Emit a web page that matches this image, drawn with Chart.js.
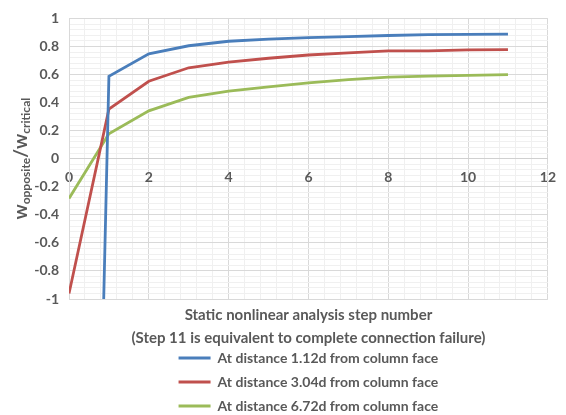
<!DOCTYPE html>
<html>
<head>
<meta charset="utf-8">
<script src="https://cdn.jsdelivr.net/npm/chart.js@4/dist/chart.umd.min.js"></script>
<style>
  html, body { margin: 0; padding: 0; background: #ffffff; }
  #wrap { width: 566px; height: 415px; position: relative; }
</style>
</head>
<body>
<div id="wrap"><canvas id="chart"></canvas></div>
<script>
// Analysis steps (x) and normalised deflection ratio for each gauge location
const steps = [0, 1, 2, 3, 4, 5, 6, 7, 8, 9, 10, 11];
const seriesNames = [
  'At distance 1.12d from column face',
  'At distance 3.04d from column face',
  'At distance 6.72d from column face'
];
const ratioAt112d = [-11.6, 0.587, 0.747, 0.805, 0.837, 0.853, 0.863, 0.870, 0.878, 0.884, 0.886, 0.888];
const ratioAt304d = [-0.961, 0.353, 0.552, 0.648, 0.688, 0.716, 0.739, 0.755, 0.768, 0.768, 0.776, 0.777];
const ratioAt672d = [-0.283, 0.178, 0.341, 0.437, 0.482, 0.512, 0.540, 0.563, 0.581, 0.588, 0.594, 0.599];
const seriesColors = ['#4a7ebb', '#c0504d', '#9bbb59'];

// Labelled (major) ticks; minor gridlines fall between them
const xMajorTicks = [0, 2, 4, 6, 8, 10, 12];
const yMajorTicks = [-1, -0.8, -0.6, -0.4, -0.2, 0, 0.2, 0.4, 0.6, 0.8, 1];

const xTitleLines = ['Static nonlinear analysis step number',
                     '(Step 11 is equivalent to complete connection failure)'];

const textGray = '#595959';
const FONT = 'Lato, "Open Sans", "DejaVu Sans", sans-serif';

function isMajor(list, v) {
  return list.some(t => Math.abs(t - v) < 1e-6);
}
function fmt(v) {
  const r = Math.round(v * 10) / 10;
  return String(r === 0 ? 0 : r);
}

const toPoints = arr => steps.map((s, i) => ({ x: s, y: arr[i] }));
const allSeries = [ratioAt112d, ratioAt304d, ratioAt672d];

// Rotated y-axis title with subscripts: w_opposite / w_critical
const yTitlePlugin = {
  id: 'yTitle',
  afterDraw(chart) {
    const { ctx, chartArea } = chart;
    const parts = [
      { t: 'w', size: 19, dy: 0 },
      { t: 'opposite', size: 12, dy: 5 },
      { t: '/', size: 19, dy: 0 },
      { t: 'w', size: 19, dy: 0 },
      { t: 'critical', size: 12, dy: 5 }
    ];
    ctx.save();
    let total = 0;
    parts.forEach(p => {
      ctx.font = `bold ${p.size}px ${FONT}`;
      p.w = ctx.measureText(p.t).width;
      total += p.w;
    });
    const cy = (chartArea.top + chartArea.bottom) / 2;
    ctx.translate(21, cy);
    ctx.rotate(-Math.PI / 2);
    ctx.fillStyle = textGray;
    ctx.textBaseline = 'middle';
    ctx.textAlign = 'left';
    let x = -total / 2;
    parts.forEach(p => {
      ctx.font = `bold ${p.size}px ${FONT}`;
      ctx.fillText(p.t, x, p.dy);
      x += p.w;
    });
    ctx.restore();
  }
};

new Chart(document.getElementById('chart'), {
  type: 'line',
  data: {
    datasets: allSeries.map((arr, i) => ({
      label: seriesNames[i],
      data: toPoints(arr),
      borderColor: seriesColors[i],
      backgroundColor: seriesColors[i],
      borderWidth: 2.8,
      pointRadius: 0,
      pointHoverRadius: 0,
      tension: 0,
      fill: false
    }))
  },
  options: {
    responsive: true,
    maintainAspectRatio: false,
    animation: false,
    layout: { padding: { top: 4, right: 15, bottom: 0, left: 0 } },
    scales: {
      x: {
        type: 'linear',
        position: { y: 0 },
        min: 0,
        max: 12,
        border: { display: true, color: '#d0d0d0', width: 1 },
        grid: {
          drawTicks: false,
          lineWidth: 1,
          color: c => isMajor(xMajorTicks, c.tick.value) ? '#d9d9d9' : '#f0f0f0'
        },
        ticks: {
          stepSize: 0.4,
          autoSkip: false,
          maxRotation: 0,
          padding: 10,
          color: textGray,
          font: { family: FONT, size: 14, weight: 'bold' },
          callback: v => isMajor(xMajorTicks, v) ? fmt(v) : ''
        }
      },
      y: {
        min: -1,
        max: 1,
        afterFit: s => { s.width = 69; },
        border: { display: true, color: '#d9d9d9' },
        grid: {
          drawTicks: false,
          lineWidth: 1,
          color: c => isMajor(yMajorTicks, c.tick.value) ? '#d9d9d9' : '#f0f0f0'
        },
        ticks: {
          stepSize: 0.04,
          autoSkip: false,
          padding: 10,
          color: textGray,
          font: { family: FONT, size: 14, weight: 'bold' },
          callback: v => isMajor(yMajorTicks, v) ? fmt(v) : ''
        }
      }
    },
    plugins: {
      tooltip: { enabled: false },
      title: {
        display: true,
        position: 'bottom',
        fullSize: false,
        weight: 500,
        text: xTitleLines,
        color: textGray,
        font: { family: FONT, size: 15, weight: 'bold', lineHeight: 1.5 },
        padding: { top: 5, bottom: -8 }
      },
      legend: {
        display: true,
        position: 'bottom',
        fullSize: false,
        maxHeight: 74,
        labels: {
          usePointStyle: true,
          pointStyle: 'line',
          pointStyleWidth: 32,
          padding: 10,
          color: textGray,
          font: { family: FONT, size: 14, weight: 'bold' }
        }
      }
    }
  },
  plugins: [yTitlePlugin]
});
</script>
</body>
</html>
